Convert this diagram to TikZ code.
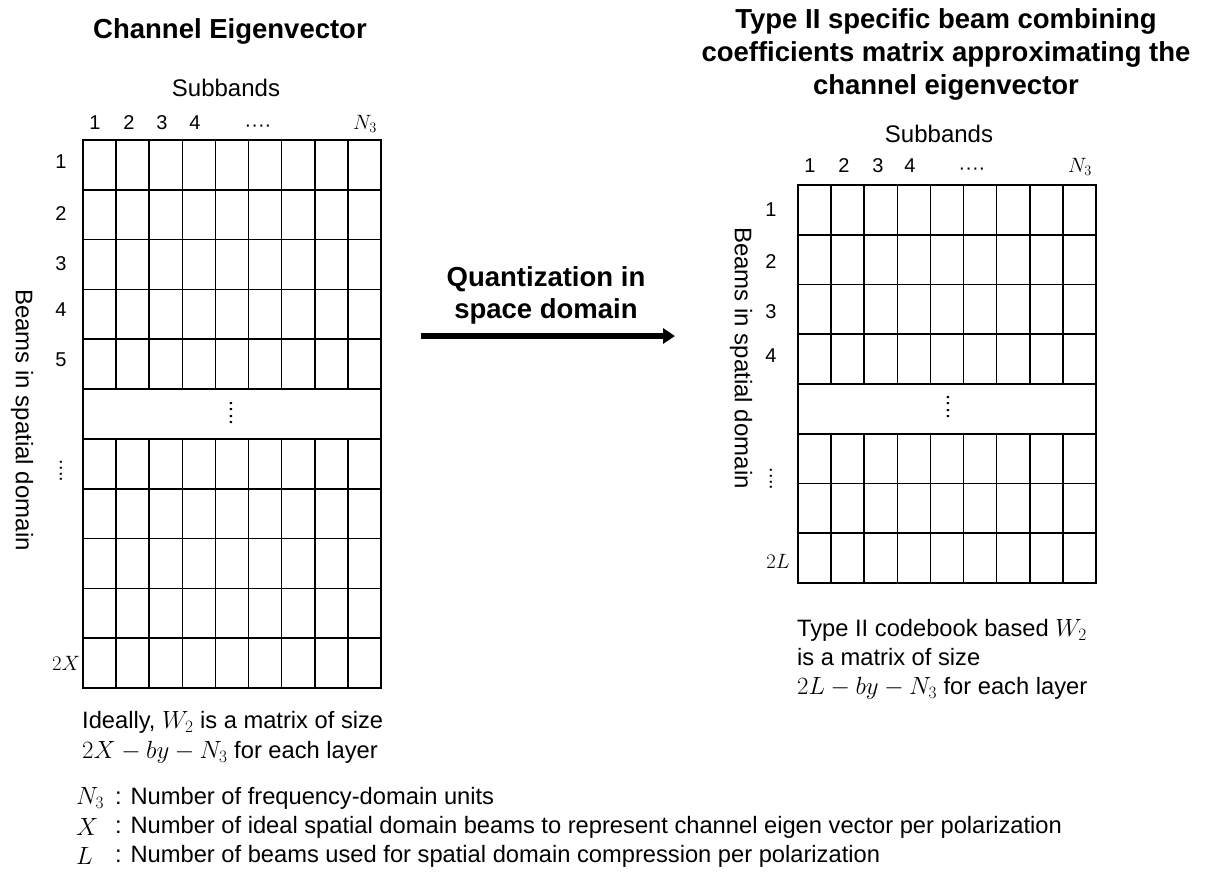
\documentclass[tikz,border=0pt]{standalone}
\usepackage{fontspec}
\setmainfont{Liberation Sans}
\usetikzlibrary{arrows.meta}
\tikzset{
  lbl/.style={inner sep=0pt, font=\fontsize{20}{24}\selectfont},
  big/.style={inner sep=0pt, font=\fontsize{24}{28}\selectfont},
  txt/.style={inner sep=0pt, font=\fontsize{23.7}{28}\selectfont, anchor=west},
  note/.style={inner sep=0pt, align=left, font=\fontsize{23.7}{29}\selectfont, anchor=north west},
  ttl/.style={inner sep=0pt, align=center, font=\fontsize{27.5}{33}\selectfont\bfseries},
  gridline/.style={line width=1.6pt, black},
  bigarrow/.style={line width=6pt, -{Triangle[length=12pt,width=15pt]}},
}
\begin{document}
\begin{tikzpicture}[x=1pt,y=-1pt]
\useasboundingbox (0,0) rectangle (1219,871);
% ---------- Left grid ----------
\def\lx{83}\def\rx{381}\def\ty{140}\def\rh{49.82}
\foreach \r in {0,...,10}{
  \ifnum\r=5\else
  \foreach \c in {1,...,8}{
    \draw[gridline] ({\lx+\c*298/9},{\ty+\r*\rh}) -- ({\lx+\c*298/9},{\ty+(\r+1)*\rh});
  }\fi
}
\foreach \r in {1,...,10}{
  \draw[gridline] (\lx,{\ty+\r*\rh}) -- (\rx,{\ty+\r*\rh});
}
\draw[gridline] (\lx,\ty) rectangle (\rx,688);
\node[rotate=-90, lbl, font=\fontsize{22}{24}\selectfont] (ldots) at (231,413) {....};
% column labels
\node[lbl] (lc1) at (95,123) {1};
\node[lbl] (lc2) at (129,123) {2};
\node[lbl] (lc3) at (162,123) {3};
\node[lbl] (lc4) at (195,123) {4};
\node[lbl] (lcd) at (258,128) {····};
\node[lbl] (lcn) at (365,124) {$N_3$};
% row labels
\node[lbl] (lr1) at (61,162) {1};
\node[lbl] (lr2) at (61,214) {2};
\node[lbl] (lr3) at (61,264) {3};
\node[lbl] (lr4) at (61,310) {4};
\node[lbl] (lr5) at (61,360) {5};
\node[lbl, rotate=-90] (lrd) at (61,471) {....};
\node[lbl] (lrx) at (66,663) {$2X$};
\node[big] (lsub) at (226,88) {Subbands};
\node[big, rotate=-90] (lbeam) at (22,420) {Beams in spatial domain};
\node[ttl] (ltitle) at (230,31) {Channel Eigenvector};
\node[note, font=\fontsize{23.7}{30.5}\selectfont] (lnote) at (82,711) {Ideally, $W_2$ is a matrix of size\\$2X-by-N_3$ for each layer};
% ---------- Right grid ----------
\def\Lx{798}\def\Rx{1096}\def\Ty{185}\def\Rh{49.75}
\foreach \r in {0,...,7}{
  \ifnum\r=4\else
  \foreach \c in {1,...,8}{
    \draw[gridline] ({\Lx+\c*298/9},{\Ty+\r*\Rh}) -- ({\Lx+\c*298/9},{\Ty+(\r+1)*\Rh});
  }\fi
}
\foreach \r in {1,...,7}{
  \draw[gridline] (\Lx,{\Ty+\r*\Rh}) -- (\Rx,{\Ty+\r*\Rh});
}
\draw[gridline] (\Lx,\Ty) rectangle (\Rx,583);
\node[rotate=-90, lbl, font=\fontsize{22}{24}\selectfont] (rdots) at (948,407) {....};
\node[lbl] (rc1) at (810,166) {1};
\node[lbl] (rc2) at (844,166) {2};
\node[lbl] (rc3) at (878,166) {3};
\node[lbl] (rc4) at (910,166) {4};
\node[lbl] (rcd) at (972,171) {····};
\node[lbl] (rcn) at (1080,167) {$N_3$};
\node[lbl] (rr1) at (771,210) {1};
\node[lbl] (rr2) at (771,262) {2};
\node[lbl] (rr3) at (771,312) {3};
\node[lbl] (rr4) at (771,356) {4};
\node[lbl, rotate=-90] (rrd) at (771,479) {....};
\node[lbl] (rrl) at (778,561) {$2L$};
\node[big] (rsub) at (939,134) {Subbands};
\node[big, rotate=-90] (rbeam) at (741,358) {Beams in spatial domain};
\node[ttl] (rtitle) at (946,54) {Type II specific beam combining\\coefficients matrix approximating the\\channel eigenvector};
\node[note] (rnote) at (797,619) {Type II codebook based $W_2$\\is a matrix of size\\$2L-by-N_3$ for each layer};
% ---------- Arrow ----------
\coordinate (as) at (421,336);
\coordinate (ae) at (675,336);
\draw[bigarrow] (as) -- (ae);
\node[ttl, font=\fontsize{27.5}{32}\selectfont\bfseries] (alabel) at (546,295) {Quantization in\\space domain};
% ---------- Legend ----------
\node[inner sep=0pt, font=\fontsize{23.7}{28}\selectfont, anchor=west] (k1) at (76,798) {$N_3$};
\node[inner sep=0pt, font=\fontsize{23.7}{28}\selectfont, anchor=west] (k2) at (76,827) {$X$};
\node[inner sep=0pt, font=\fontsize{23.7}{28}\selectfont, anchor=west] (k3) at (76,856) {$L$};
\node[txt] (d1) at (115,798) {: Number of frequency-domain units};
\node[txt] (d2) at (115,827) {: Number of ideal spatial domain beams to represent channel eigen vector per polarization};
\node[txt] (d3) at (115,856) {: Number of beams used for spatial domain compression per polarization};
\end{tikzpicture}
\end{document}
